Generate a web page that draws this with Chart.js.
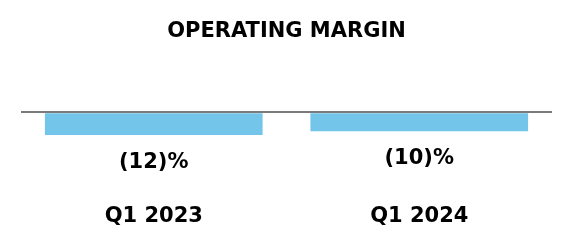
<!DOCTYPE html>
<html>
<head>
<meta charset="utf-8">
<script src="https://cdn.jsdelivr.net/npm/chart.js@4"></script>
<style>
  html, body { margin: 0; padding: 0; background: #fff; }
  #wrap { width: 572px; height: 250px; }
</style>
</head>
<body>
<div id="wrap"><canvas id="marginChart"></canvas></div>
<script>
const quarters = ["Q1 2023", "Q1 2024"];
const operatingMargin = [-12, -10];
const chartTitle = "OPERATING MARGIN";

const fontFamily = "'DejaVu Sans', Arial, sans-serif";

// writes (12)% under each bar
const valueLabels = {
  id: "valueLabels",
  afterDatasetsDraw(chart) {
    const ctx = chart.ctx;
    const meta = chart.getDatasetMeta(0);
    ctx.save();
    ctx.font = "bold 21px " + fontFamily;
    ctx.fillStyle = "#000";
    ctx.textAlign = "center";
    ctx.textBaseline = "middle";
    meta.data.forEach((bar, i) => {
      const v = operatingMargin[i];
      const txt = v < 0 ? "(" + Math.abs(v) + ")%" : v + "%";
      ctx.fillText(txt, bar.x, bar.y + 27);
    });
    ctx.restore();
  }
};

new Chart(document.getElementById("marginChart").getContext("2d"), {
  type: "bar",
  data: {
    labels: quarters,
    datasets: [{
      data: operatingMargin,
      backgroundColor: "#73c5ea",
      borderWidth: 0,
      barPercentage: 0.82,
      categoryPercentage: 1
    }]
  },
  options: {
    responsive: true,
    maintainAspectRatio: false,
    animation: false,
    layout: {
      padding: { left: 21, right: 20, top: 0, bottom: 6 }
    },
    plugins: {
      legend: { display: false },
      tooltip: { enabled: false },
      title: {
        display: true,
        text: chartTitle,
        color: "#000",
        font: { family: fontFamily, size: 21, weight: "bold" },
        padding: { top: 19, bottom: 68 }
      }
    },
    scales: {
      x: {
        grid: { display: false },
        border: { display: false },
        ticks: {
          color: "#000",
          padding: 15,
          font: { family: fontFamily, size: 21, weight: "bold" }
        }
      },
      y: {
        min: -36,
        max: 0,
        ticks: { display: false, stepSize: 12 },
        border: { display: false },
        grid: {
          drawTicks: false,
          lineWidth: 2,
          z: 1,
          color: c => c.tick && c.tick.value === 0 ? "#7a7a7a" : "rgba(0,0,0,0)"
        }
      }
    }
  },
  plugins: [valueLabels]
});
</script>
</body>
</html>
